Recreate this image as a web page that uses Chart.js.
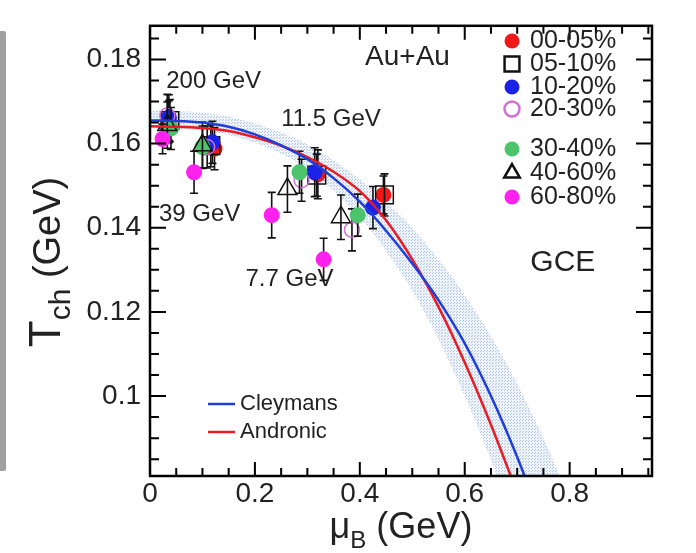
<!DOCTYPE html>
<html>
<head>
<meta charset="utf-8">
<script src="https://cdn.jsdelivr.net/npm/chart.js@4.4.1/dist/chart.umd.min.js"></script>
<style>
  html, body { margin: 0; padding: 0; background: #fff; }
  #wrap { position: relative; width: 696px; height: 553px; }
  #edge { position: absolute; left: 0; top: 31px; width: 6px; height: 440px; background: #a0a0a0; border-radius: 0 2px 2px 0; }
  #c { position: absolute; left: 0; top: 0; }
</style>
</head>
<body>
<div id="wrap"><div id="edge"></div><canvas id="c" width="696" height="553"></canvas></div>
<script>
// energies per column: 200, 39, 11.5, 7.7 GeV
const energyLabels = ['200 GeV', '39 GeV', '11.5 GeV', '7.7 GeV'];
const centralities = ['00-05%', '05-10%', '10-20%', '20-30%', '30-40%', '40-60%', '60-80%'];

const mu_0005 = [0.036, 0.123, 0.320, 0.445];
const t_0005 = [0.1652, 0.1588, 0.1527, 0.1478];
const e_0005 = [0.005, 0.005, 0.0058, 0.0045];

const mu_0510 = [0.038, 0.116, 0.318, 0.447];
const t_0510 = [0.1655, 0.1595, 0.1525, 0.1478];
const e_0510 = [0.005, 0.005, 0.005, 0.005];

const mu_1020 = [0.036, 0.119, 0.314, 0.425];
const t_1020 = [0.1662, 0.1603, 0.1532, 0.1448];
const e_1020 = [0.0054, 0.005, 0.0058, 0.005];

const mu_2030 = [0.033, 0.109, 0.289, 0.385];
const t_2030 = [0.1667, 0.1592, 0.1513, 0.1395];
const e_2030 = [0.005, 0.005, 0.005, 0.005];

const mu_3040 = [0.040, 0.100, 0.285, 0.396];
const t_3040 = [0.1636, 0.1592, 0.1532, 0.1430];
const e_3040 = [0.005, 0.005, 0.005, 0.005];

const mu_4060 = [0.033, 0.100, 0.262, 0.364];
const t_4060 = [0.1644, 0.1596, 0.1492, 0.1425];
const e_4060 = [0.0055, 0.0055, 0.0055, 0.0053];

const mu_6080 = [0.024, 0.084, 0.232, 0.331];
const t_6080 = [0.1611, 0.1532, 0.1430, 0.1325];
const e_6080 = [0.0035, 0.005, 0.0054, 0.005];

// Cleymans curve and its band
const cleyMu = [0, 0.05, 0.1, 0.15, 0.2, 0.25, 0.3, 0.35, 0.4, 0.45, 0.5, 0.55, 0.6, 0.65, 0.7, 0.75];
const cleyT = [0.1655, 0.1654, 0.1650, 0.1640, 0.1622, 0.1596, 0.1563, 0.1518, 0.1462, 0.1393, 0.1315, 0.1228, 0.1125, 0.1000, 0.0855, 0.0690];
const bandMu = [0, 0.1, 0.2, 0.3, 0.4, 0.45, 0.5, 0.55, 0.6, 0.65, 0.7, 0.75, 0.8];
const bandHi = [0.1678, 0.1674, 0.1648, 0.1598, 0.1515, 0.1462, 0.1400, 0.1325, 0.1240, 0.1142, 0.1030, 0.0900, 0.0755];
const bandLo = [0.1637, 0.1631, 0.1602, 0.1540, 0.1425, 0.1345, 0.1250, 0.1135, 0.1000, 0.0848, 0.0680, 0.0500, 0.0310];

// Andronic curve
const andrMu = [0, 0.05, 0.1, 0.15, 0.2, 0.25, 0.3, 0.35, 0.4, 0.45, 0.5, 0.55, 0.6, 0.65, 0.7];
const andrT = [0.1641, 0.1640, 0.1637, 0.1630, 0.1615, 0.1595, 0.1568, 0.1533, 0.1487, 0.1418, 0.1325, 0.1212, 0.1080, 0.0932, 0.0770];

const xTicks = [0, 0.2, 0.4, 0.6, 0.8];
const yTicks = [0.1, 0.12, 0.14, 0.16, 0.18];

const xy = (xs, ys) => xs.map((x, i) => ({ x, y: ys[i] }));
const FONT = '"Liberation Sans", Arial, Helvetica, sans-serif';

const ctx = document.getElementById('c').getContext('2d');

function dotPattern() {
  const c = document.createElement('canvas');
  c.width = 3; c.height = 3;
  const g = c.getContext('2d');
  g.fillStyle = 'rgba(232,238,248,0.7)';
  g.fillRect(0, 0, 3, 3);
  g.fillStyle = 'rgba(165,188,225,0.85)';
  g.fillRect(0, 0, 1, 1);
  g.fillRect(1, 2, 1, 1);
  return ctx.createPattern(c, 'repeat');
}

// later centralities are drawn on top, as in the original
function pts(i, mus, ts, errs, style) {
  return Object.assign({ label: centralities[i], data: xy(mus, ts), errY: errs, showLine: false, order: 20 - i }, style);
}

const pointSets = [
  pts(0, mu_0005, t_0005, e_0005, { pointStyle: 'circle', pointRadius: 8, backgroundColor: '#f01818', borderColor: '#f01818', borderWidth: 0 }),
  pts(1, mu_0510, t_0510, e_0510, { pointStyle: 'rect', pointRadius: 12.5, backgroundColor: 'rgba(0,0,0,0)', borderColor: '#111', borderWidth: 1.5 }),
  pts(2, mu_1020, t_1020, e_1020, { pointStyle: 'circle', pointRadius: 8, backgroundColor: '#1a22e6', borderColor: '#1a22e6', borderWidth: 0 }),
  pts(3, mu_2030, t_2030, e_2030, { pointStyle: 'circle', pointRadius: 7.5, backgroundColor: 'rgba(0,0,0,0)', borderColor: '#d070d8', borderWidth: 1.5 }),
  pts(4, mu_3040, t_3040, e_3040, { pointStyle: 'circle', pointRadius: 8, backgroundColor: '#4cc46c', borderColor: '#4cc46c', borderWidth: 0 }),
  pts(5, mu_4060, t_4060, e_4060, { pointStyle: 'triangle', pointRadius: 11, backgroundColor: 'rgba(0,0,0,0)', borderColor: '#111', borderWidth: 1.5 }),
  pts(6, mu_6080, t_6080, e_6080, { pointStyle: 'circle', pointRadius: 8, backgroundColor: '#ff22ee', borderColor: '#ff22ee', borderWidth: 0 }),
];

// error bars, drawn just under each marker set
const errorBars = {
  id: 'errorBars',
  beforeDatasetDraw(chart, args) {
    const ds = chart.data.datasets[args.index];
    if (!ds.errY) return;
    const { x: sx, y: sy } = chart.scales;
    const c = chart.ctx;
    c.save();
    c.strokeStyle = '#111';
    c.lineWidth = 1.6;
    ds.data.forEach((p, i) => {
      const px = sx.getPixelForValue(p.x);
      const top = sy.getPixelForValue(p.y + ds.errY[i]);
      const bot = sy.getPixelForValue(p.y - ds.errY[i]);
      c.beginPath();
      c.moveTo(px, top); c.lineTo(px, bot);
      c.moveTo(px - 4, top); c.lineTo(px + 4, top);
      c.moveTo(px - 4, bot); c.lineTo(px + 4, bot);
      c.stroke();
    });
    c.restore();
  },
};

function drawText(c, parts, x, y, align) {
  // parts: [text, size, dy]
  let w = 0;
  parts.forEach(([t, s]) => { c.font = `${s}px ${FONT}`; w += c.measureText(t).width; });
  let cx = align === 'center' ? x - w / 2 : x;
  parts.forEach(([t, s, dy]) => {
    c.font = `${s}px ${FONT}`;
    c.fillText(t, cx, y + (dy || 0));
    cx += c.measureText(t).width;
  });
}

// frame, inward ticks, titles, labels, legend
const decor = {
  id: 'decor',
  afterDraw(chart) {
    const c = chart.ctx;
    const { left, right, top, bottom } = chart.chartArea;
    const { x: sx, y: sy } = chart.scales;
    c.save();
    c.strokeStyle = '#000';
    c.lineWidth = 2.5;
    c.strokeRect(left, top, right - left, bottom - top);
    c.lineWidth = 2;
    c.beginPath();
    for (let v = 0.05; v < sx.max; v += 0.05) {
      const px = sx.getPixelForValue(v);
      const major = Math.abs(v / 0.2 - Math.round(v / 0.2)) < 1e-6;
      const len = major ? 14 : 8;
      c.moveTo(px, bottom); c.lineTo(px, bottom - len);
      c.moveTo(px, top); c.lineTo(px, top + len);
    }
    for (let v = 0.085; v < sy.max; v += 0.005) {
      const py = sy.getPixelForValue(v);
      const major = Math.abs(v / 0.02 - Math.round(v / 0.02)) < 1e-6;
      const len = major ? 16 : 9;
      c.moveTo(left, py); c.lineTo(left + len, py);
      c.moveTo(right, py); c.lineTo(right - len, py);
    }
    c.stroke();

    c.fillStyle = '#222';
    c.textBaseline = 'alphabetic';
    // y title, rotated
    c.save();
    c.translate(60, 262);
    c.rotate(-Math.PI / 2);
    drawText(c, [['T', 44], ['ch', 30, 10], [' (GeV)', 38]], 0, 0, 'center');
    c.restore();
    drawText(c, [['\u03bc', 36], ['B', 24, 10], [' (GeV)', 36]], 401, 538, 'center');

    // annotations
    c.textBaseline = 'middle';
    c.textAlign = 'left';
    const at = (t, mu, T, s) => { c.font = `${s}px ${FONT}`; c.fillText(t, sx.getPixelForValue(mu), sy.getPixelForValue(T)); };
    at('Au+Au', 0.41, 0.1805, 28);
    at(energyLabels[0], 0.031, 0.1748, 24);
    at(energyLabels[1], 0.017, 0.1432, 24);
    at(energyLabels[2], 0.250, 0.1658, 24);
    at(energyLabels[3], 0.182, 0.1278, 24);
    at('GCE', 0.725, 0.1318, 30);

    // curve legend
    c.lineWidth = 2.5;
    [['Cleymans', '#1f3fd8', 404], ['Andronic', '#e81c24', 432]].forEach(([t, col, y]) => {
      c.strokeStyle = col;
      c.beginPath(); c.moveTo(208, y); c.lineTo(235, y); c.stroke();
      c.font = `22px ${FONT}`;
      c.fillText(t, 240, y);
    });

    // centrality legend
    const rows = [41, 64, 87, 109, 149, 173, 197];
    const legR = { circle: 7.5, rect: 10.5, triangle: 9 };
    pointSets.forEach((ds, i) => {
      c.fillStyle = ds.backgroundColor;
      c.strokeStyle = ds.borderColor;
      Chart.helpers.drawPoint(c, { pointStyle: ds.pointStyle, radius: legR[ds.pointStyle], borderWidth: ds.borderWidth, rotation: 0 }, 512, rows[i]);
      c.fillStyle = '#222';
      c.font = `25px ${FONT}`;
      c.fillText(ds.label, 530, rows[i]);
    });
    c.restore();
  },
};

new Chart(ctx, {
  type: 'scatter',
  data: {
    datasets: [
      { label: 'band hi', data: xy(bandMu, bandHi), showLine: true, pointRadius: 0, borderWidth: 0, borderColor: 'rgba(0,0,0,0)', fill: false, cubicInterpolationMode: 'monotone', order: 40 },
      { label: 'band lo', data: xy(bandMu, bandLo), showLine: true, pointRadius: 0, borderWidth: 0, borderColor: 'rgba(0,0,0,0)', fill: '-1', backgroundColor: dotPattern(), cubicInterpolationMode: 'monotone', order: 39 },
      ...pointSets,
      { label: 'Cleymans', data: xy(cleyMu, cleyT), showLine: true, pointRadius: 0, borderColor: '#1f3fd8', borderWidth: 2.5, cubicInterpolationMode: 'monotone', order: 1 },
      { label: 'Andronic', data: xy(andrMu, andrT), showLine: true, pointRadius: 0, borderColor: '#e81c24', borderWidth: 2.5, cubicInterpolationMode: 'monotone', order: 1 },
    ],
  },
  options: {
    responsive: false,
    animation: false,
    events: [],
    layout: { padding: { top: 15, right: 44, left: 0, bottom: 0 } },
    plugins: { legend: { display: false }, tooltip: { enabled: false } },
    scales: {
      x: {
        type: 'linear', min: 0, max: 0.957,
        grid: { display: false, drawTicks: false }, border: { display: false },
        afterBuildTicks: (s) => { s.ticks = xTicks.map((v) => ({ value: v })); },
        afterFit: (s) => { s.height = 77; },
        ticks: { color: '#222', padding: 1, maxRotation: 0, font: { size: 28, family: FONT }, callback: (v) => String(+v.toFixed(3)) },
      },
      y: {
        type: 'linear', min: 0.081, max: 0.188,
        grid: { display: false, drawTicks: false }, border: { display: false },
        afterBuildTicks: (s) => { s.ticks = yTicks.map((v) => ({ value: v })); },
        afterFit: (s) => { s.width = 150; },
        ticks: { color: '#222', padding: 9, font: { size: 28, family: FONT }, callback: (v) => String(+v.toFixed(3)) },
      },
    },
  },
  plugins: [errorBars, decor],
});
</script>
</body>
</html>
